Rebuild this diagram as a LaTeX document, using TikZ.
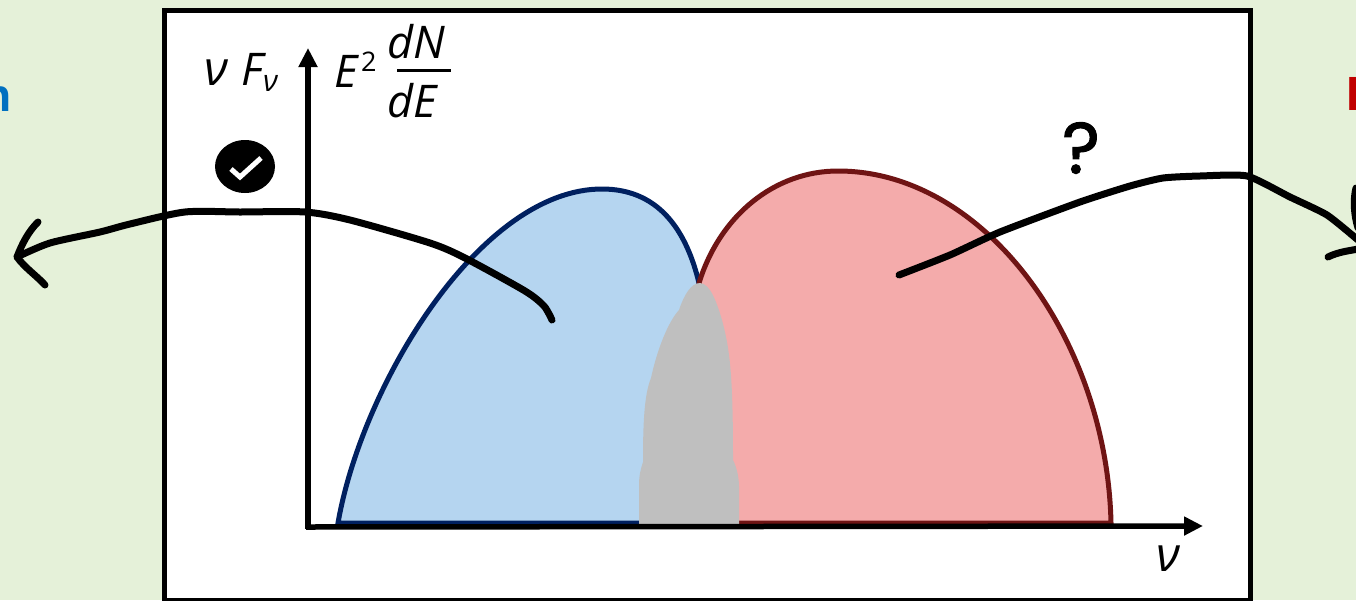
\documentclass[tikz,border=0pt]{standalone}
\usepackage{fontspec}
\setmainfont{Open Sans}
\newfontfamily\cutfont{Liberation Sans}
\newfontfamily\questfont[FakeBold=1.6]{Poppins}
\usetikzlibrary{arrows.meta,shapes.geometric}
\definecolor{bggreen}{HTML}{E5F1D9}
\definecolor{bluefill}{HTML}{B5D5F0}
\definecolor{blueline}{HTML}{002060}
\definecolor{redfill}{HTML}{F4ABAB}
\definecolor{redline}{HTML}{6F1414}
\definecolor{blobgray}{HTML}{BFBFBF}
\definecolor{cutblue}{HTML}{0070C0}
\definecolor{cutred}{HTML}{C00000}
\tikzset{
  frame/.style={draw=black,line width=5pt,fill=white},
  axisline/.style={line width=5.5pt,-{Triangle[length=19pt,width=18pt]}},
  stroke/.style={line width=7pt,line cap=round,line join=round},
  hand/.style={inner sep=0pt,outer sep=0pt,font=\fontsize{#1}{#1}\selectfont\itshape},
  hand/.default=45,
}
\begin{document}
\begin{tikzpicture}[x=1pt,y=-1pt]
\useasboundingbox (0,0) rectangle (1356,600);
\clip (0,0) rectangle (1356,600);
\fill[bggreen] (0,0) rectangle (1356,600);
\node[anchor=base east,inner sep=0pt,text=cutblue,font=\fontsize{46}{46}\selectfont\cutfont\bfseries] (cutleft) at (12,111) {n};
\node[anchor=base west,inner sep=0pt,text=cutred,font=\fontsize{48}{48}\selectfont\cutfont\bfseries] (cutright) at (1346,110) {H};
\path[frame] (164,10) rectangle (1250,600.5);
% spectra
\path[fill=bluefill,draw=blueline,line width=5pt]
  (338,523) .. controls (362,385) and (480,189) .. (602,189)
  .. controls (655,189) and (685,225) .. (699,283) -- (699,523) -- cycle;
\path[fill=redfill,draw=redline,line width=5pt]
  (699,283) .. controls (720,215) and (775,171) .. (838,171)
  .. controls (985,171) and (1107,340) .. (1111,523) -- (699,523) -- cycle;
\fill[blobgray] (700,283) .. controls (710,284) and (716,300) .. (722,320)
  .. controls (730,350) and (733,375) .. (733,460)
  .. controls (737,468) and (739,478) .. (739,487) -- (739,524) -- (639,524) -- (639,485)
  .. controls (639,475) and (641,468) .. (643,462)
  .. controls (643,425) and (644,395) .. (651,378)
  .. controls (657,350) and (668,322) .. (679,310)
  .. controls (684,295) and (691,283) .. (700,283) -- cycle;
% axes
\coordinate (origin) at (306,527);
\coordinate (ytip) at (308,48);
\coordinate (xtip) at (1203,526);
\draw[axisline] (308,529) -- (ytip);
\draw[axisline] (origin) -- (xtip);
% labels
\node[hand=48,anchor=base west] (nu) at (204,85) {ν};
\node[hand,anchor=base west] (flux) at (241,85) {F};
\node[hand=30,anchor=base west] (fluxsub) at (263,91) {ν};
\node[hand,anchor=base west] (energy) at (334,87) {E};
\node[inner sep=0pt,anchor=base west,font=\fontsize{27}{27}\selectfont] (square) at (361,71) {2};
\node[hand,anchor=base west] (dn) at (387,58) {dN};
\node[hand,anchor=base west] (de) at (387,117) {dE};
\coordinate (fracl) at (397,70.5);
\coordinate (fracr) at (451,70.5);
\draw[line width=2.5pt] (fracl) -- (fracr);
\node[hand=48,anchor=base] (numark) at (1168,571) {ν};
% check badge
\node[fill=black,ellipse,minimum width=60pt,minimum height=53pt,inner sep=0pt] (badge) at (245,166.5) {};
\coordinate (ca) at (231,169);
\coordinate (cb) at (240,177);
\coordinate (cc) at (261,158);
\draw[white,line width=5pt] (ca) -- (cb) -- (cc);
\node[inner sep=0pt,font=\fontsize{72}{72}\selectfont\questfont] (quest) at (1081,148) {?};
% strokes
\coordinate (lhead) at (17,257);
\draw[stroke] plot[smooth,tension=0.45] coordinates {(552,320) (544,306) (525,291) (465,258) (430,243) (350,220) (305,212) (240,212) (185,212) (130,224) (100,232) (50,243) (lhead)};
\draw[stroke] (38,222) .. controls (28,232) and (22,244) .. (lhead) .. controls (25,268) and (37,276) .. (45,285);
\coordinate (rhead) at (1358,240);
\draw[stroke] plot[smooth,tension=0.35] coordinates {(899,275) (950,255) (1000,232) (1080,202) (1130,186) (1163,178) (1200,176) (1247,176) (1290,197) (1327,215) (rhead)};
\draw[stroke] (1328,257) .. controls (1338,252) and (1348,251) .. (1358,249);
\draw[stroke] (1356,188) .. controls (1353,200) and (1354,215) .. (1358,228);
\end{tikzpicture}
\end{document}
